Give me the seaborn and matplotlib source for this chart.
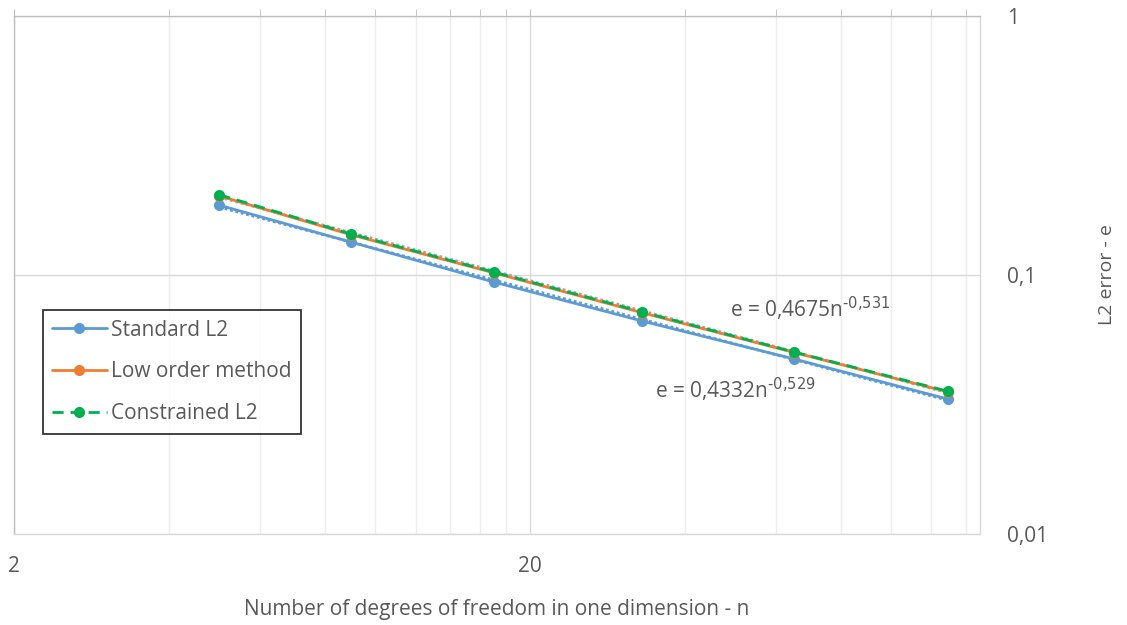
import numpy as np
import pandas as pd
import matplotlib.pyplot as plt
import seaborn as sns
from matplotlib.ticker import FixedLocator, FixedFormatter, NullFormatter, NullLocator

# data
n_dof = [5, 9, 17, 33, 65, 129]
standard_l2 = [0.186, 0.134, 0.094, 0.0664, 0.0474, 0.0332]
low_order = [0.202, 0.143, 0.102, 0.0715, 0.0502, 0.0354]
constrained_l2 = [0.204, 0.144, 0.1027, 0.072, 0.0504, 0.0356]

trend_std_text = r"e = 0,4332n$^{\text{-0,529}}$"
trend_con_text = r"e = 0,4675n$^{\text{-0,531}}$"

sns.set_style("white")
plt.rcParams['font.family'] = ['Open Sans', 'DejaVu Sans']
plt.rcParams['mathtext.default'] = 'regular'

blue = "#5B9BD5"
orange = "#ED7D31"
green = "#00B050"
txt = "#595959"

fig = plt.figure(figsize=(11.27, 6.25), dpi=100)
ax = fig.add_axes([14 / 1127, 91 / 625, 966 / 1127, 518 / 625])

df = pd.DataFrame({"n": n_dof, "std": standard_l2, "low": low_order, "con": constrained_l2})

# power trendlines (least squares in log-log, like the spreadsheet)
for col, c in [("std", blue), ("con", "#A5A5A5")]:
    b, a = np.polyfit(np.log(df["n"]), np.log(df[col]), 1)
    ax.plot(df["n"], np.exp(a) * df["n"] ** b, color=c, lw=2, ls=(0, (1, 1)), zorder=2)

sns.lineplot(data=df, x="n", y="std", ax=ax, color=blue, lw=2, marker="o", markersize=8,
             markeredgewidth=0, label="Standard L2", zorder=3)
sns.lineplot(data=df, x="n", y="low", ax=ax, color=orange, lw=2, marker="o", markersize=8,
             markeredgewidth=0, label="Low order method", zorder=3)
sns.lineplot(data=df, x="n", y="con", ax=ax, color=green, lw=2, linestyle=(0, (4, 2.5)), marker="o",
             markersize=8, markeredgewidth=0, label="Constrained L2", zorder=4)

ax.set_xscale("log")
ax.set_yscale("log")
ax.set_xlim(2, 149)
ax.set_ylim(0.01, 1)

ax.xaxis.set_major_locator(FixedLocator([2, 20]))
ax.xaxis.set_major_formatter(FixedFormatter(["2", "20"]))
ax.xaxis.set_minor_locator(FixedLocator(list(range(4, 20, 2)) + list(range(40, 150, 20))))
ax.xaxis.set_minor_formatter(NullFormatter())
ax.yaxis.set_major_locator(FixedLocator([0.01, 0.1, 1]))
ax.yaxis.set_major_formatter(FixedFormatter(["0,01", "0,1", "1"]))
ax.yaxis.set_minor_locator(NullLocator())

ax.grid(which="major", color="#D9D9D9", lw=1)
ax.grid(which="minor", axis="x", color="#EDEDED", lw=1)

ax.tick_params(axis="x", which="both", top=True, bottom=False, labeltop=False, labelbottom=True,
               direction="out", length=5, color="#BFBFBF", labelsize=15, labelcolor=txt, pad=11)
ax.tick_params(axis="y", which="both", left=False, right=False, labelleft=False, labelright=True,
               labelsize=15, labelcolor=txt, pad=16)

for side, c in [("top", "#BFBFBF"), ("left", "#BFBFBF"), ("bottom", "#D9D9D9"), ("right", "#D9D9D9")]:
    ax.spines[side].set_color(c)
    ax.spines[side].set_linewidth(1)

ax.set_xlabel("Number of degrees of freedom in one dimension - n", fontsize=15, color=txt, labelpad=16)
ax.yaxis.set_label_position("right")
ax.set_ylabel("L2 error - e", fontsize=14, color=txt, labelpad=36)

ax.text(48.8, 0.074, trend_con_text, fontsize=15, color=txt, va="center", ha="left")
ax.text(34.9, 0.036, trend_std_text, fontsize=15, color=txt, va="center", ha="left")

leg = ax.legend(loc="upper left", bbox_to_anchor=(0.030, 0.432), borderaxespad=0, fontsize=15,
                frameon=True, fancybox=False, edgecolor="black", handlelength=2.6,
                handletextpad=0.2, labelspacing=1.0, borderpad=0.45)
leg.get_frame().set_linewidth(1.3)
for t in leg.get_texts():
    t.set_color(txt)

fig.savefig("out.png", dpi=100)
